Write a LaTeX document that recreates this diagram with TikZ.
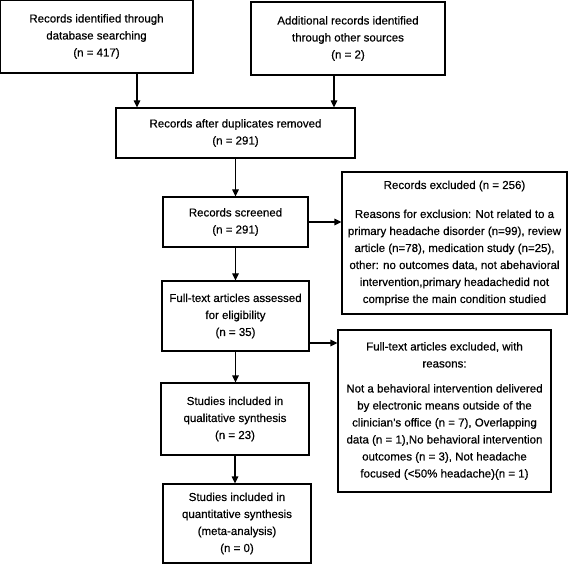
\documentclass[tikz,border=0pt]{standalone}
\usepackage{fontspec}
\setmainfont{Liberation Sans}[FakeBold=0.5]
\usetikzlibrary{arrows.meta}
\begin{document}
\begin{tikzpicture}[x=1pt,y=-1pt,
  box/.style={draw, line width=1.2pt, align=center, inner sep=0pt,
    font=\fontsize{11.5pt}{17pt}\selectfont},
  arr/.style={line width=1.2pt, -{Triangle[length=7pt,width=6.5pt]}}]
\useasboundingbox (0,0) rectangle (568,564);
\node[box, minimum width=193pt, minimum height=73pt] (b1) at (96.5,36.5)
  {Records identified through\\database searching\\(n = 417)};
\node[box, minimum width=194pt, minimum height=73pt] (b2) at (348,38.5)
  {Additional records identified\\through other sources\\(n = 2)};
\node[box, minimum width=239pt, minimum height=50pt] (b3) at (235.5,133)
  {Records after duplicates removed\\(n = 291)};
\node[box, minimum width=145pt, minimum height=50pt] (scr) at (235.5,222)
  {Records screened\\(n = 291)};
\node[box, minimum width=147pt, minimum height=70pt] (ft) at (235.5,316)
  {Full-text articles assessed\\for eligibility\\(n = 35)};
\node[box, minimum width=148pt, minimum height=72pt] (qual) at (235,419)
  {Studies included in\\qualitative synthesis\\(n = 23)};
\node[box, minimum width=148pt, minimum height=79pt] (quant) at (237,523.5)
  {Studies included in\\quantitative synthesis\\(meta-analysis)\\(n = 0)};
\node[box, minimum width=225pt, minimum height=142pt] (ex1) at (454.5,243)
  {Records excluded (n = 256)\\[12pt]
   Reasons for exclusion: Not related to a\\
   primary headache disorder (n=99), review\\
   article (n=78), medication study (n=25),\\
   other: no outcomes data, not abehavioral\\
   intervention,primary headachedid not\\
   comprise the main condition studied};
\node[box, minimum width=213pt, minimum height=162pt] (ex2) at (444.5,411)
  {Full-text articles excluded, with\\reasons:\\[8pt]
   Not a behavioral intervention delivered\\
   by electronic means outside of the\\
   clinician's office (n = 7), Overlapping\\
   data (n = 1),No behavioral intervention\\
   outcomes (n = 3), Not headache\\
   focused (<50\% headache)(n = 1)};
\coordinate (s1) at ([xshift=40.5pt]b1.south);
\coordinate (s2) at ([xshift=-14pt]b2.south);
\draw[arr] (s1) -- (s1 |- b3.north);
\draw[arr] (s2) -- (s2 |- b3.north);
\draw[arr] (b3.south -| scr.north) -- (scr.north);
\draw[arr] (scr.east) -- (scr.east -| ex1.west);
\draw[arr] (scr.south) -- (scr.south |- ft.north);
\coordinate (f1) at ([yshift=-27pt]ft.east);
\draw[arr] (f1) -- (f1 -| ex2.west);
\draw[arr] (ft.south) -- (ft.south |- qual.north);
\draw[arr] (qual.south) -- (qual.south |- quant.north);
\end{tikzpicture}
\end{document}
